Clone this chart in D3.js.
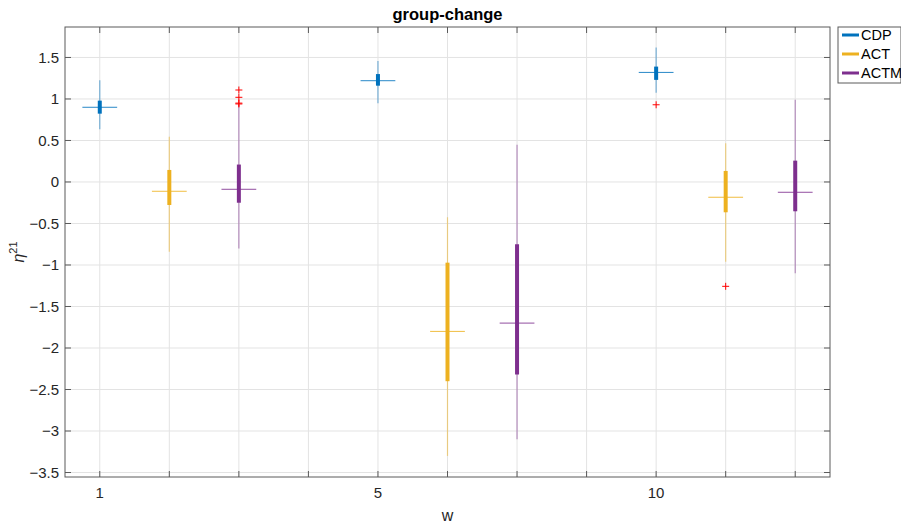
<!DOCTYPE html>
<html>
<head>
<meta charset="utf-8">
<script src="https://cdn.jsdelivr.net/npm/d3@7"></script>
<style>
  body { margin: 0; background: #fff; }
  text { font-family: "Liberation Sans", Arial, sans-serif; }
</style>
</head>
<body>
<div id="chart"></div>
<script>
// ---- data ----
const seriesNames = ["CDP", "ACT", "ACTM"];
const seriesColors = ["#0072BD", "#EDB120", "#7E2F8E"];

const positions = [1, 2, 3, 5, 6, 7, 9, 10, 11];
const seriesOf  = [0, 1, 2, 0, 1, 2, 0, 1, 2];

const whiskerLow  = [0.635, -0.84, -0.80, 0.948, -3.30, -3.10, 1.076, -0.96, -1.10];
const q1          = [0.823, -0.277, -0.25, 1.16, -2.40, -2.32, 1.23, -0.365, -0.353];
const medians     = [0.90, -0.112, -0.088, 1.22, -1.80, -1.70, 1.32, -0.184, -0.124];
const q3          = [0.98, 0.145, 0.21, 1.30, -0.972, -0.75, 1.39, 0.133, 0.257];
const whiskerHigh = [1.225, 0.546, 0.93, 1.458, -0.425, 0.45, 1.62, 0.466, 0.99];
const outliers    = [[], [], [1.108, 1.02, 0.95, 0.94], [], [], [], [0.93], [-1.257], []];

const xTicks = [1, 2, 3, 4, 5, 6, 7, 8, 9, 10, 11];
const xTickLabels = ["1", "", "", "", "5", "", "", "", "10", "", ""];
const yTicks = [-3.5, -3, -2.5, -2, -1.5, -1, -0.5, 0, 0.5, 1, 1.5];

// ---- layout ----
const W = 901, H = 527;
const m = { left: 65, right: 830, top: 27, bottom: 477 };

const svg = d3.select("#chart").append("svg")
    .attr("width", W)
    .attr("height", H);

const x = d3.scaleLinear().domain([0.5, 11.5]).range([m.left, m.right]);
const y = d3.scaleLinear().domain([-3.554, 1.867]).range([m.bottom, m.top]);

// grid
svg.append("g")
    .selectAll("line.vgrid")
    .data(xTicks)
    .enter()
    .append("line")
    .attr("x1", d => x(d)).attr("x2", d => x(d))
    .attr("y1", m.top).attr("y2", m.bottom)
    .attr("stroke", "#e3e3e3");

svg.append("g")
    .selectAll("line.hgrid")
    .data(yTicks)
    .enter()
    .append("line")
    .attr("x1", m.left).attr("x2", m.right)
    .attr("y1", d => y(d)).attr("y2", d => y(d))
    .attr("stroke", "#e3e3e3");

// boxes
const boxes = positions.map((p, i) => ({
    pos: p,
    color: seriesColors[seriesOf[i]],
    lo: whiskerLow[i], q1: q1[i], med: medians[i], q3: q3[i], hi: whiskerHigh[i],
    out: outliers[i]
}));

const gBox = svg.append("g");

gBox.selectAll("line.whisker")
    .data(boxes)
    .enter()
    .append("line")
    .attr("class", "whisker")
    .attr("x1", d => x(d.pos)).attr("x2", d => x(d.pos))
    .attr("y1", d => y(d.lo)).attr("y2", d => y(d.hi))
    .attr("stroke", d => d.color)
    .attr("stroke-opacity", 0.5)
    .attr("stroke-width", 1.2);

gBox.selectAll("line.box")
    .data(boxes)
    .enter()
    .append("line")
    .attr("class", "box")
    .attr("x1", d => x(d.pos)).attr("x2", d => x(d.pos))
    .attr("y1", d => y(d.q1)).attr("y2", d => y(d.q3))
    .attr("stroke", d => d.color)
    .attr("stroke-width", 4);

gBox.selectAll("line.median")
    .data(boxes)
    .enter()
    .append("line")
    .attr("class", "median")
    .attr("x1", d => x(d.pos - 0.25)).attr("x2", d => x(d.pos + 0.25))
    .attr("y1", d => y(d.med)).attr("y2", d => y(d.med))
    .attr("stroke", d => d.color)
    .attr("stroke-opacity", 0.85)
    .attr("stroke-width", 1);

const outPts = boxes.flatMap(b => b.out.map(v => ({ pos: b.pos, v })));
gBox.selectAll("path.outlier")
    .data(outPts)
    .enter()
    .append("path")
    .attr("class", "outlier")
    .attr("d", d => {
        const cx = x(d.pos), cy = y(d.v);
        return `M${cx - 3.5},${cy}H${cx + 3.5}M${cx},${cy - 3.5}V${cy + 3.5}`;
    })
    .attr("stroke", "#ff0000")
    .attr("stroke-width", 1);

// axes box + inward ticks on all sides
const axisColor = "#5a5a5a";
svg.append("rect")
    .attr("x", m.left).attr("y", m.top)
    .attr("width", m.right - m.left).attr("height", m.bottom - m.top)
    .attr("fill", "none")
    .attr("stroke", axisColor);

const tickLen = 6;
const gTicks = svg.append("g").attr("stroke", axisColor);
xTicks.forEach(t => {
    gTicks.append("line").attr("x1", x(t)).attr("x2", x(t)).attr("y1", m.bottom).attr("y2", m.bottom - tickLen);
    gTicks.append("line").attr("x1", x(t)).attr("x2", x(t)).attr("y1", m.top).attr("y2", m.top + tickLen);
});
yTicks.forEach(t => {
    gTicks.append("line").attr("x1", m.left).attr("x2", m.left + tickLen).attr("y1", y(t)).attr("y2", y(t));
    gTicks.append("line").attr("x1", m.right).attr("x2", m.right - tickLen).attr("y1", y(t)).attr("y2", y(t));
});

// tick labels
svg.append("g")
    .selectAll("text")
    .data(yTicks)
    .enter()
    .append("text")
    .attr("x", m.left - 6)
    .attr("y", d => y(d))
    .attr("dy", "0.35em")
    .attr("text-anchor", "end")
    .attr("font-size", 15)
    .attr("fill", "#262626")
    .text(d => d3.format("")(d));

svg.append("g")
    .selectAll("text")
    .data(xTicks)
    .enter()
    .append("text")
    .attr("x", d => x(d))
    .attr("y", m.bottom + 16)
    .attr("dy", "0.35em")
    .attr("text-anchor", "middle")
    .attr("font-size", 15)
    .attr("fill", "#262626")
    .text((d, i) => xTickLabels[i]);

// title and axis labels
svg.append("text")
    .attr("x", (m.left + m.right) / 2)
    .attr("y", 14)
    .attr("dy", "0.35em")
    .attr("text-anchor", "middle")
    .attr("font-size", 16.5)
    .attr("font-weight", "bold")
    .attr("fill", "#000")
    .text("group-change");

svg.append("text")
    .attr("x", (m.left + m.right) / 2)
    .attr("y", 515)
    .attr("dy", "0.35em")
    .attr("text-anchor", "middle")
    .attr("font-size", 16)
    .attr("fill", "#262626")
    .text("w");

const yl = svg.append("text")
    .attr("transform", `translate(24,${(m.top + m.bottom) / 2}) rotate(-90)`)
    .attr("text-anchor", "middle")
    .attr("fill", "#262626")
    .attr("font-family", "'DejaVu Serif', 'Liberation Serif', serif");
yl.append("tspan").attr("font-size", 16).attr("font-style", "italic").text("η");
yl.append("tspan").attr("font-size", 11).attr("dy", -7).text("21");

// legend
const lg = svg.append("g").attr("transform", "translate(838,27)");
lg.append("rect")
    .attr("width", 63).attr("height", 56)
    .attr("fill", "#fff")
    .attr("stroke", axisColor);
seriesNames.forEach((name, i) => {
    const ly = 8 + i * 19;
    lg.append("line")
        .attr("x1", 4).attr("x2", 21)
        .attr("y1", ly).attr("y2", ly)
        .attr("stroke", seriesColors[i])
        .attr("stroke-width", 3);
    lg.append("text")
        .attr("x", 23).attr("y", ly)
        .attr("dy", "0.35em")
        .attr("font-size", 14.5)
        .attr("fill", "#000")
        .text(name);
});
</script>
</body>
</html>
